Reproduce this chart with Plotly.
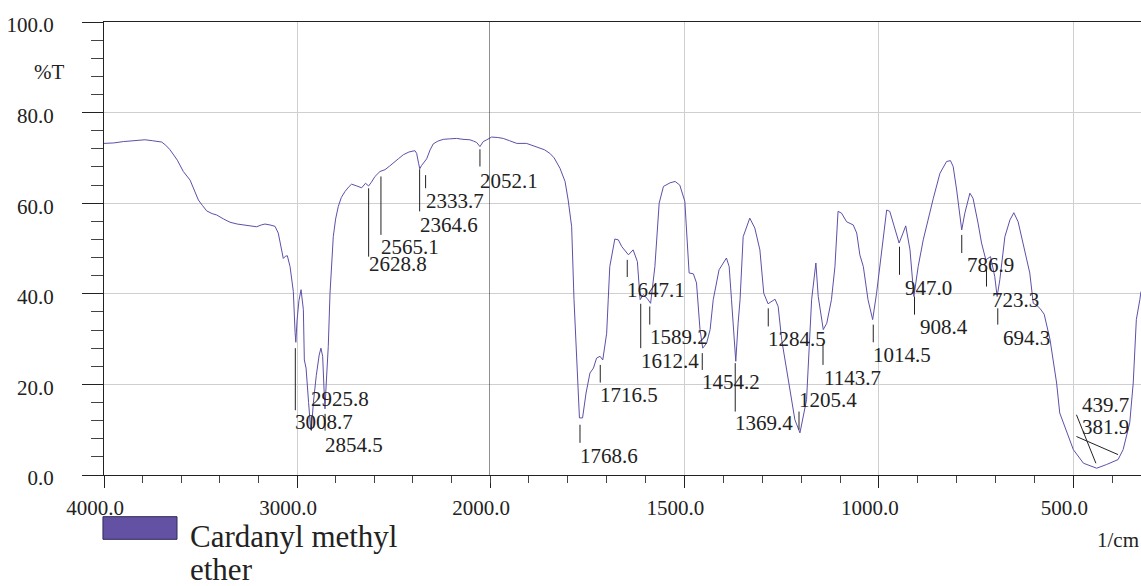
import plotly.graph_objects as go

# ---------------- data ----------------
wavenumber = [
    4000, 3995, 3950, 3900, 3850, 3788, 3750, 3701, 3680, 3658, 3620, 3589, 3554, 3530, 3511,
    3490, 3468, 3440, 3416, 3380, 3347, 3310, 3278, 3240, 3209, 3185, 3166, 3140, 3114, 3097,
    3079, 3071, 3060, 3050, 3036, 3019, 3010, 3006, 3000, 2990, 2979, 2967, 2962, 2953, 2940,
    2929, 2925, 2915, 2900, 2885, 2876, 2867, 2860, 2855, 2850, 2838, 2829, 2820, 2812, 2800,
    2786, 2770, 2751, 2730, 2717, 2690, 2665, 2645, 2629, 2615, 2596, 2570, 2544, 2520, 2501,
    2475, 2449, 2420, 2389, 2380, 2370, 2364, 2355, 2346, 2334, 2328, 2310, 2294, 2270, 2242,
    2210, 2173, 2140, 2104, 2085, 2069, 2052, 2035, 2017, 2000,
    1996, 1980, 1966, 1950, 1931, 1906, 1880, 1860, 1846, 1835, 1820, 1807, 1799, 1790, 1784,
    1781, 1777, 1770, 1762, 1753, 1743, 1734, 1726, 1717, 1710, 1700, 1696, 1692, 1679, 1670,
    1661, 1652, 1644, 1632, 1621, 1614, 1606, 1596, 1587, 1576, 1565, 1554, 1537, 1524, 1512,
    1499, 1488, 1477, 1469, 1460, 1453, 1443, 1434, 1426, 1411, 1392, 1385, 1379, 1373, 1368,
    1362, 1357, 1349, 1332, 1319, 1306, 1296, 1285, 1267, 1259, 1250, 1229, 1216, 1203, 1186,
    1173, 1162, 1156, 1143, 1134, 1122, 1113, 1105, 1096, 1083, 1066, 1057, 1049, 1040, 1028,
    1016, 1006, 993, 980, 972, 959, 948, 938, 931, 920, 910, 899, 886, 860, 843,
    826, 816, 809, 800, 787, 779, 766, 758, 745, 736, 725, 713, 702, 696, 689,
    676, 663, 653, 642, 625, 612, 603, 595, 586, 575, 560, 543, 535, 517, 500,
    474, 440, 415, 385, 372, 355, 346, 338, 329, 326,
]
transmittance = [
    73.2, 73.2, 73.3, 73.6, 73.8, 74.0, 73.8, 73.5, 72.8, 71.8, 69.5, 67.0, 65.1, 62.8, 60.7,
    59.5, 58.3, 57.7, 57.4, 56.5, 55.8, 55.4, 55.2, 54.9, 54.8, 55.2, 55.4, 55.2, 54.9, 53.4,
    50.0, 47.8, 48.3, 48.4, 46.0, 40.5, 31.5, 29.3, 34.0, 38.5, 40.9, 36.5, 25.4, 23.6, 16.0,
    10.0, 10.3, 16.0, 22.0, 26.5, 28.0, 26.2, 19.0, 14.6, 19.0, 28.4, 40.1, 48.0, 52.6, 56.5,
    59.3, 61.3, 62.6, 63.7, 64.2, 63.8, 63.4, 64.4, 63.8, 64.6, 65.9, 67.0, 67.4, 68.2, 68.8,
    69.8, 70.7, 71.3, 71.6, 71.0, 68.8, 67.6, 68.3, 68.8, 69.4, 69.8, 71.8, 73.1, 73.7, 74.1,
    74.2, 74.3, 74.1, 74.0, 73.7, 73.4, 72.5, 73.6, 74.0, 74.4,
    74.6, 74.5, 74.3, 73.8, 73.2, 73.2, 72.5, 71.8, 71.0, 70.0, 67.7, 64.8, 60.7, 54.8, 38.7,
    32.8, 24.0, 12.6, 12.6, 18.1, 22.5, 23.6, 25.8, 26.2, 25.4, 31.3, 38.7, 46.0, 52.1, 51.9,
    50.4, 49.5, 48.6, 49.7, 47.1, 38.7, 39.8, 39.0, 37.9, 46.0, 60.0, 63.7, 64.5, 64.8, 64.0,
    60.4, 44.6, 44.4, 42.4, 32.1, 28.0, 29.1, 32.1, 38.7, 45.3, 47.9, 46.0, 38.7, 29.9, 25.1,
    33.5, 38.7, 52.6, 56.7, 54.5, 49.7, 40.1, 37.8, 38.8, 37.2, 29.9, 18.8, 12.2, 9.3, 16.6,
    38.7, 46.8, 39.4, 32.1, 33.5, 38.7, 46.0, 58.2, 57.8, 55.9, 55.2, 53.4, 48.6, 46.0, 38.7,
    34.3, 40.1, 49.7, 58.5, 58.2, 54.1, 51.2, 53.4, 55.0, 49.7, 39.4, 46.0, 51.9, 61.1, 66.6,
    69.2, 69.4, 68.1, 62.9, 54.1, 57.8, 62.2, 61.1, 55.6, 51.2, 47.5, 48.2, 43.8, 39.4, 43.1,
    52.6, 56.3, 57.9, 55.9, 49.7, 44.6, 37.9, 37.5, 36.8, 35.5, 29.9, 20.3, 13.7, 9.3, 5.6,
    2.6, 1.5, 2.3, 3.4, 5.6, 11.5, 20.3, 34.3, 38.7, 40.5,
]

# peak labels (vertical marker lines)
peak_text = ["3008.7", "2925.8", "2854.5", "2628.8", "2565.1", "2364.6", "2333.7", "2052.1",
             "1768.6", "1716.5", "1647.1", "1612.4", "1589.2", "1454.2", "1369.4", "1284.5",
             "1205.4", "1143.7", "1014.5", "947.0", "908.4", "786.9", "723.3", "694.3"]
peak_wn = [float(t) for t in peak_text]
# marker line top / bottom and label height, in %T
mark_top = [28.0, 13.0, 13.5, 63.3, 65.9, 67.5, 66.2, 71.9,
            11.1, 24.3, 47.5, 37.8, 37.2, 26.9, 24.7, 36.8,
            14.0, 29.1, 33.2, 50.4, 39.4, 53.0, 46.0, 36.8]
mark_bottom = [14.3, 9.8, 9.8, 48.2, 53.0, 58.2, 63.3, 68.1,
               7.1, 20.4, 43.7, 28.0, 33.2, 23.2, 14.0, 32.8,
               10.0, 24.3, 29.3, 44.2, 35.4, 49.0, 41.6, 33.2]
mark_text_y = [11.6, 16.8, 6.6, 46.6, 50.3, 55.2, 60.4, 65.0,
               4.3, 17.7, 40.8, 25.1, 30.4, 20.5, 11.5, 30.1,
               16.5, 21.5, 26.5, 41.3, 32.6, 46.3, 38.6, 30.2]

# peak labels with slanted leader lines
slanted_text = ["439.7", "381.9"]
slanted_peak_wn = [442, 385]
slanted_peak_t = [2.6, 4.5]
slanted_end_wn = [492, 492]
slanted_end_t = [13.3, 8.5]
slanted_text_y = [15.5, 10.5]

series_name = "Cardanyl methyl ether"

# ---------------- figure ----------------
W, H = 1141, 586
ML, MR, MT, MB = 104, 0, 22, 111
split = 386 / (W - ML - MR)

FONT = "Liberation Serif"
INK = "#222222"
CURVE = "#5c50a8"

left_x = [w for w in wavenumber if w >= 2000]
left_y = [t for w, t in zip(wavenumber, transmittance) if w >= 2000]
right_x = [w for w in wavenumber if w <= 2000]
right_y = [t for w, t in zip(wavenumber, transmittance) if w <= 2000]

fig = go.Figure()
fig.add_trace(go.Scatter(x=left_x, y=left_y, mode="lines", xaxis="x", yaxis="y",
                         line=dict(color=CURVE, width=1), showlegend=False, name=series_name))
fig.add_trace(go.Scatter(x=right_x, y=right_y, mode="lines", xaxis="x2", yaxis="y",
                         line=dict(color=CURVE, width=1), showlegend=False, name=series_name))

shapes = []
annotations = []

# split line at 2000
shapes.append(dict(type="line", xref="x", yref="y", x0=2000, x1=2000, y0=0, y1=100,
                   line=dict(color=INK, width=1)))

for t, wn, y0, y1, ty in zip(peak_text, peak_wn, mark_top, mark_bottom, mark_text_y):
    ax = "x" if wn >= 2000 else "x2"
    shapes.append(dict(type="line", xref=ax, yref="y", x0=wn, x1=wn, y0=y0, y1=y1,
                       line=dict(color=INK, width=1)))
    annotations.append(dict(x=wn, y=ty, xref=ax, yref="y", text=t, showarrow=False,
                            xanchor="center", yanchor="middle", xshift=29,
                            font=dict(family=FONT, size=21, color=INK)))

for t, pw, pt, ew, et, ty in zip(slanted_text, slanted_peak_wn, slanted_peak_t,
                                 slanted_end_wn, slanted_end_t, slanted_text_y):
    shapes.append(dict(type="line", xref="x2", yref="y", x0=pw, x1=ew, y0=pt, y1=et,
                       line=dict(color=INK, width=1)))
    annotations.append(dict(x=ew, y=ty, xref="x2", yref="y", text=t, showarrow=False,
                            xanchor="center", yanchor="middle", xshift=29,
                            font=dict(family=FONT, size=21, color=INK)))

# legend-like key below the plot
shapes.append(dict(type="rect", xref="paper", yref="paper",
                   x0=-0.001, x1=0.0704, y0=-0.142, y1=-0.092,
                   fillcolor="#6352a3", line=dict(color="#2e2a5a", width=1)))
annotations.append(dict(x=0.081, y=-0.1355, xref="paper", yref="paper", text="Cardanyl methyl",
                        showarrow=False, xanchor="left", yanchor="middle",
                        font=dict(family=FONT, size=31, color=INK)))
annotations.append(dict(x=0.081, y=-0.2085, xref="paper", yref="paper", text="ether",
                        showarrow=False, xanchor="left", yanchor="middle",
                        font=dict(family=FONT, size=31, color=INK)))

# axis titles
annotations.append(dict(x=-0.053, y=0.8896, xref="paper", yref="paper", text="%T",
                        showarrow=False, xanchor="center", yanchor="middle",
                        font=dict(family=FONT, size=21, color=INK)))
annotations.append(dict(x=0.9556, y=-0.1435, xref="paper", yref="paper", text="1/cm",
                        showarrow=False, xanchor="left", yanchor="middle",
                        font=dict(family=FONT, size=21, color=INK)))

tickfont = dict(family=FONT, size=21, color=INK)

fig.update_layout(
    template="none",
    width=W, height=H,
    font=dict(family=FONT, color=INK),
    margin=dict(l=ML, r=MR, t=MT, b=MB, pad=0, autoexpand=False),
    paper_bgcolor="white", plot_bgcolor="white",
    showlegend=False,
    shapes=shapes, annotations=annotations,
    xaxis=dict(domain=[0, split], range=[4000, 2000], anchor="y", automargin=False,
               tickmode="linear", tick0=0, dtick=1000, tickformat=".1f",
               ticks="outside", ticklen=12, tickcolor=INK, tickwidth=1,
               minor=dict(dtick=200, tick0=0, ticks="outside", ticklen=7, tickcolor="#444", showgrid=False),
               showline=True, linecolor=INK, linewidth=1, mirror=True,
               showgrid=True, gridcolor="#cfcfcf", gridwidth=1, zeroline=False,
               tickfont=tickfont, ticklabelstandoff=2, ticklabelshift=9),
    xaxis2=dict(domain=[split, 1], range=[2000, 326], anchor="y", automargin=False,
                tickmode="array", tickvals=[1500, 1000, 500], tickformat=".1f",
                ticks="outside", ticklen=12, tickcolor=INK, tickwidth=1,
                minor=dict(dtick=100, tick0=0, ticks="outside", ticklen=7, tickcolor="#444", showgrid=False),
                showline=True, linecolor=INK, linewidth=1, mirror=True,
                showgrid=True, gridcolor="#cfcfcf", gridwidth=1, zeroline=False,
                tickfont=tickfont, ticklabelstandoff=2, ticklabelshift=9),
    yaxis=dict(range=[0, 100], tickmode="linear", tick0=0, dtick=20, tickformat=".1f",
               automargin=False,
               ticks="outside", ticklen=21, tickcolor=INK, tickwidth=1,
               minor=dict(dtick=4, tick0=0, ticks="outside", ticklen=12, tickcolor="#444", showgrid=False),
               showline=True, linecolor=INK, linewidth=1,
               showgrid=True, gridcolor="#cfcfcf", gridwidth=1, zeroline=False,
               tickfont=tickfont, ticklabelstandoff=24, ticklabelshift=3),
)

fig.write_html("out.html")
